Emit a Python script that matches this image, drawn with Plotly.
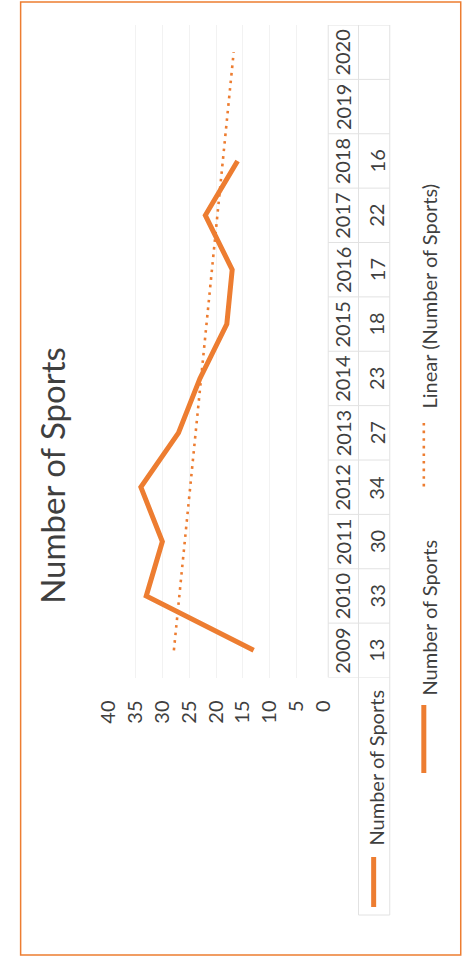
import numpy as np
import plotly.graph_objects as go

# ---- data ----
years = ["2009", "2010", "2011", "2012", "2013", "2014",
         "2015", "2016", "2017", "2018", "2019", "2020"]
sports = [13, 33, 30, 34, 27, 23, 18, 17, 22, 16, None, None]
value_ticks = [0, 5, 10, 15, 20, 25, 30, 35, 40]

series_name = "Number of Sports"
trend_name = "Linear (Number of Sports)"
chart_title = "Number of Sports"

# ---- styling ----
W, H = 467, 963
ORANGE = "#ED7D31"
TEXT = "#3f3f3f"
FONT = "Lato"
GRID = "#f2f2f2"
TABLE_LINE = "#e2e2e2"


def px(x):
    return x / W


def py(y):
    return 1 - y / H


idx = list(range(len(years)))
known = [(i, v) for i, v in zip(idx, sports) if v is not None]
kx = np.array([k[0] for k in known], dtype=float)
ky = np.array([k[1] for k in known], dtype=float)
slope, intercept = np.polyfit(kx, ky, 1)
trend_x_idx = [idx[0], idx[-1]]
trend_vals = [slope * t + intercept for t in trend_x_idx]

fig = go.Figure()

# linear trend across all categories
fig.add_trace(go.Scatter(
    x=trend_vals, y=trend_x_idx, mode="lines",
    line=dict(color=ORANGE, width=2.6, dash="2.6px,5px"),
    hoverinfo="skip", showlegend=False,
))

# main series (chart drawn sideways: values run right-to-left, years bottom-to-top)
fig.add_trace(go.Scatter(
    x=[v for v in sports if v is not None],
    y=[i for i, v in zip(idx, sports) if v is not None],
    mode="lines",
    line=dict(color=ORANGE, width=5),
    showlegend=False,
))

annotations = []
shapes = []

# title
annotations.append(dict(
    text=chart_title, textangle=-90, x=px(40), y=py(475),
    xref="paper", yref="paper", showarrow=False,
    font=dict(family=FONT, size=33, color=TEXT),
    xanchor="center", yanchor="middle",
))

# data table: year row and value row
X_TOP, X_MID, X_BOT = 332, 364, 397
for i, yr in enumerate(years):
    annotations.append(dict(
        text=yr, textangle=-90, x=px(347), y=i,
        xref="paper", yref="y", showarrow=False,
        font=dict(family=FONT, size=20, color=TEXT),
        xanchor="center", yanchor="middle",
    ))
    if sports[i] is not None:
        annotations.append(dict(
            text=str(sports[i]), textangle=-90, x=px(383), y=i,
            xref="paper", yref="y", showarrow=False,
            font=dict(family=FONT, size=20, color=TEXT),
            xanchor="center", yanchor="middle",
        ))

# table cell separators between categories
for i in range(len(years) + 1):
    shapes.append(dict(
        type="line", xref="paper", yref="y",
        x0=px(X_TOP), x1=px(X_BOT), y0=i - 0.5, y1=i - 0.5,
        line=dict(color=TABLE_LINE, width=1),
    ))
for xl in (X_TOP, X_MID, X_BOT):
    shapes.append(dict(
        type="line", xref="paper", yref="y",
        x0=px(xl), x1=px(xl), y0=-0.5, y1=len(years) - 0.5,
        line=dict(color=TABLE_LINE, width=1),
    ))
# row header cell
shapes.append(dict(
    type="line", xref="paper", yref="paper",
    x0=px(X_MID), x1=px(X_MID), y0=py(677), y1=py(915),
    line=dict(color=TABLE_LINE, width=1),
))
shapes.append(dict(
    type="line", xref="paper", yref="paper",
    x0=px(X_BOT), x1=px(X_BOT), y0=py(677), y1=py(915),
    line=dict(color=TABLE_LINE, width=1),
))
shapes.append(dict(
    type="line", xref="paper", yref="paper",
    x0=px(X_MID), x1=px(X_BOT), y0=py(915), y1=py(915),
    line=dict(color=TABLE_LINE, width=1),
))
annotations.append(dict(
    text=series_name, textangle=-90, x=px(382), y=py(768),
    xref="paper", yref="paper", showarrow=False,
    font=dict(family=FONT, size=20, color=TEXT),
    xanchor="center", yanchor="middle",
))
shapes.append(dict(
    type="line", xref="paper", yref="paper",
    x0=px(380), x1=px(380), y0=py(857), y1=py(907),
    line=dict(color=ORANGE, width=5),
))

# legend
shapes.append(dict(
    type="line", xref="paper", yref="paper",
    x0=px(433), x1=px(433), y0=py(705), y1=py(773),
    line=dict(color=ORANGE, width=5),
))
annotations.append(dict(
    text=series_name, textangle=-90, x=px(438), y=py(618),
    xref="paper", yref="paper", showarrow=False,
    font=dict(family=FONT, size=20, color=TEXT),
    xanchor="center", yanchor="middle",
))
shapes.append(dict(
    type="line", xref="paper", yref="paper",
    x0=px(433), x1=px(433), y0=py(423), y1=py(488),
    line=dict(color=ORANGE, width=2.6, dash="2.6px,5px"),
))
annotations.append(dict(
    text=trend_name, textangle=-90, x=px(438), y=py(296),
    xref="paper", yref="paper", showarrow=False,
    font=dict(family=FONT, size=20, color=TEXT),
    xanchor="center", yanchor="middle",
))

# chart border
shapes.append(dict(
    type="rect", xref="paper", yref="paper",
    x0=px(7), x1=px(472), y0=py(955), y1=py(2),
    line=dict(color=ORANGE, width=1.5), fillcolor="rgba(0,0,0,0)",
))

fig.update_layout(
    width=W, height=H,
    margin=dict(l=0, r=0, t=0, b=0),
    paper_bgcolor="white", plot_bgcolor="white",
    showlegend=False,
    annotations=annotations,
    shapes=shapes,
    xaxis=dict(
        domain=[px(100), px(327)],
        range=[40, 0],
        tickvals=value_ticks,
        ticktext=[str(v) for v in value_ticks],
        tickangle=-90,
        tickfont=dict(family=FONT, size=20, color=TEXT),
        ticks="", showline=False, zeroline=False,
        showgrid=True, gridcolor=GRID, gridwidth=1,
        ticklabelstandoff=18,
    ),
    yaxis=dict(
        domain=[py(677.5), py(25)],
        range=[-0.5, len(years) - 0.5],
        showticklabels=False, showgrid=False, zeroline=False, showline=False,
    ),
)

fig.write_html("out.html")
